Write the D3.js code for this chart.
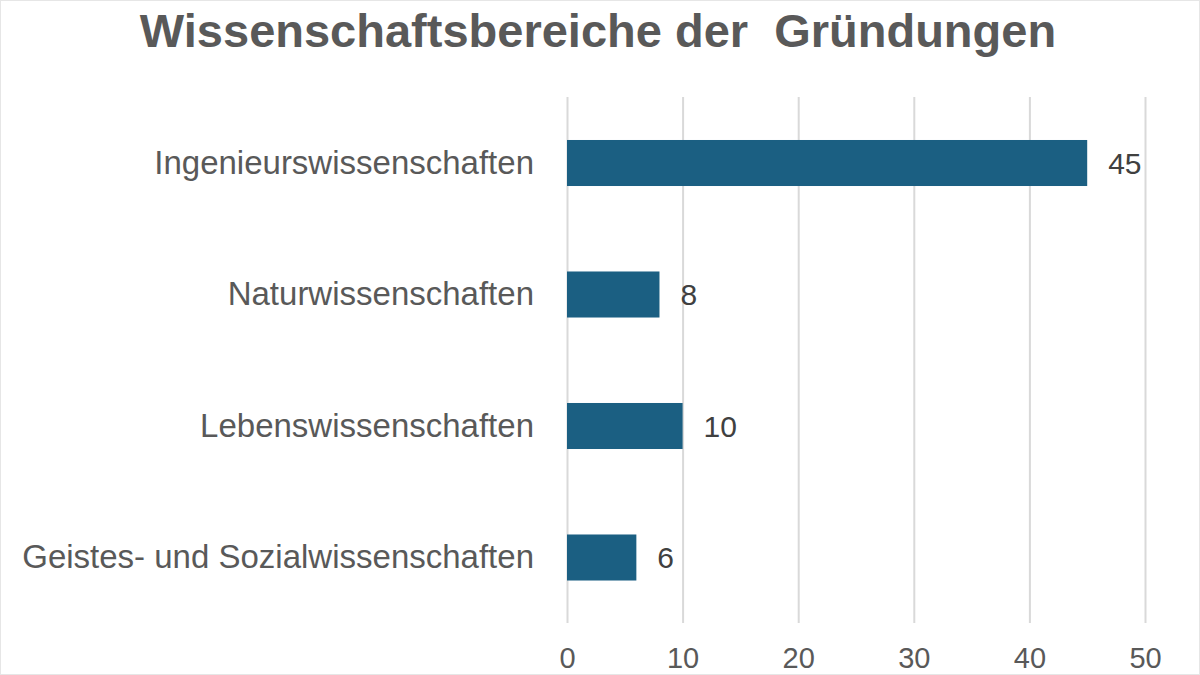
<!DOCTYPE html>
<html><head><meta charset="utf-8">
<script src="https://cdn.jsdelivr.net/npm/d3@7"></script>
<style>body{margin:0;background:#fff}svg{display:block}text{font-family:"Liberation Sans",Arial,sans-serif}</style>
</head><body>
<script>
const title = "Wissenschaftsbereiche der  Gründungen";
const categories = ["Ingenieurswissenschaften","Naturwissenschaften","Lebenswissenschaften","Geistes- und Sozialwissenschaften"];
const values = [45, 8, 10, 6];
const tickValues = [0, 10, 20, 30, 40, 50];

const W = 1200, H = 675;
const svg = d3.select("body").append("svg").attr("width", W).attr("height", H);
svg.append("rect").attr("x",0.5).attr("y",0.5).attr("width",W-1).attr("height",H-1)
  .attr("fill","#fff").attr("stroke","#e6e6e6");

const x = d3.scaleLinear().domain([0,50]).range([567,1145]);
const y = d3.scaleBand().domain(categories).range([97.25,623.25]).paddingInner(0.65).paddingOuter(0.325);

svg.append("text").attr("x",598).attr("y",47).attr("text-anchor","middle")
  .attr("font-size",47).attr("font-weight","bold").attr("fill","#595959")
  .style("white-space","pre").text(title);

// gridlines
const grid = svg.append("g").attr("transform","translate(0,623)")
  .call(d3.axisBottom(x).tickValues(tickValues).tickSize(-526).tickFormat(""));
grid.select(".domain").remove();
grid.selectAll("line").attr("stroke","#d9d9d9").attr("stroke-width",2);

// tick labels
const xa = svg.append("g").attr("transform","translate(0,623)")
  .call(d3.axisBottom(x).tickValues(tickValues).tickSize(0).tickPadding(0).tickFormat(d3.format("d")));
xa.select(".domain").remove();
xa.selectAll("text").attr("dy",null).attr("y",45).attr("font-size",29).attr("fill","#595959").attr("font-family","Liberation Sans, Arial, sans-serif");

// category labels
const ya = svg.append("g").attr("transform","translate(534,0)")
  .call(d3.axisLeft(y).tickSize(0).tickPadding(0));
ya.select(".domain").remove();
ya.selectAll("text").attr("font-size",33).attr("fill","#595959").attr("font-family","Liberation Sans, Arial, sans-serif");

// bars
svg.selectAll("rect.bar").data(values).join("rect").attr("class","bar")
  .attr("x", x(0)).attr("y",(d,i)=>y(categories[i]))
  .attr("width", d=>x(d)-x(0)).attr("height", y.bandwidth())
  .attr("fill","#1b5f82");

svg.selectAll("text.val").data(values).join("text").attr("class","val")
  .attr("x", d=>x(d)+21).attr("y",(d,i)=>y(categories[i])+y.bandwidth()/2)
  .attr("dy","0.36em").attr("font-size",30).attr("fill","#404040").text(d=>d);
</script>
</body></html>
